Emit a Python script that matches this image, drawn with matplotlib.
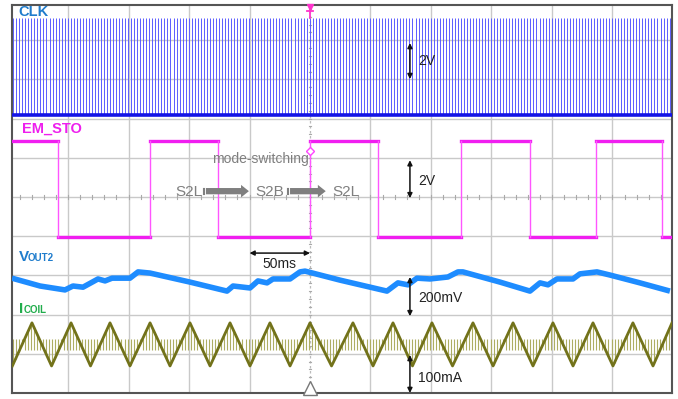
import numpy as np
import matplotlib
matplotlib.use("Agg")
import matplotlib.pyplot as plt
from matplotlib.patches import FancyArrow

plt.rcParams['font.family'] = ['Liberation Sans', 'DejaVu Sans']

# time axis in ms (50 ms/div), vertical axis in screen divisions
clk_low, clk_high = 7.09, 9.57
clk_period = 2.5

em_levels = (3.98, 6.43)          # low, high
em_edges = [-208, -132, -76, 0, 56, 125, 182, 236, 291]   # first edge is a fall

vout_t = [-246.3, -223.1, -202.5, -195.9, -187.6, -175.2, -169.4, -163.6, -148.8,
          -142.1, -132.2, -99.2, -68.6, -63.6, -49.6, -43.0, -35.5, -30.6, -16.5,
          -8.3, -4.1, 24.8, 63.6, 72.7, 81.0, 88.4, 99.2, 114.0, 122.3, 126.4,
          157.0, 181.8, 190.1, 196.7, 204.1, 217.4, 223.1, 237.2, 247.9, 272.7, 297.5]
vout_v = [2.93, 2.73, 2.63, 2.73, 2.70, 2.91, 2.86, 2.93, 2.93,
          3.09, 3.06, 2.83, 2.60, 2.73, 2.68, 2.86, 2.81, 2.91, 2.91,
          3.09, 3.11, 2.88, 2.60, 2.81, 2.76, 2.93, 2.91, 2.96, 3.09, 3.09,
          2.83, 2.60, 2.81, 2.76, 2.91, 2.91, 3.04, 3.09, 3.01, 2.81, 2.60]

coil_peaks = [-229.8, -197.5, -165.3, -132.2, -99.2, -66.1, -33.1, 0.0, 35.5,
              68.6, 100.8, 134.7, 167.8, 200.8, 233.9, 266.9, 299.2]
coil_troughs = [-246.0, -213.6, -181.4, -148.8, -115.7, -82.6, -49.6, -16.5, 17.8,
                52.1, 84.7, 117.8, 151.3, 184.3, 217.4, 250.4, 283.5]
coil_hi, coil_lo = 1.79, 0.69

x0, x1 = -246.3, 299.2
y0, y1 = 0.0, 9.9

fig = plt.figure(figsize=(6.78, 3.99), dpi=100)
ax = fig.add_axes([12/678, 6/399, 660/678, 388/399])
ax.set_xlim(x0, x1)
ax.set_ylim(y0, y1)
ax.set_xticks([])
ax.set_yticks([])
for s in ax.spines.values():
    s.set_color('#555555')
    s.set_linewidth(1.5)

# graticule
gcol = '#c9c9c9'
for gx in range(-200, 300, 50):
    if gx == 0:
        ax.axvline(gx, color='#bbbbbb', lw=0.9, ls=(0, (2, 2)), zorder=0)
    else:
        ax.axvline(gx, color=gcol, lw=1.0, zorder=0)
for gy in range(1, 10):
    ax.axhline(gy, color=gcol, lw=1.0, zorder=0)
# minor ticks on the centre lines
for tx in np.arange(-240, 300, 10):
    ax.plot([tx, tx], [4.95, 5.05], color='#aaaaaa', lw=0.8, zorder=0)
for ty in np.arange(0.2, 9.9, 0.2):
    ax.plot([-1.2, 1.2], [ty, ty], color='#aaaaaa', lw=0.8, zorder=0)

# CLK pulse train
clk_t = np.arange(x0 + 1.0, x1, clk_period)
ax.vlines(clk_t, clk_low, clk_high, color='#5c5cff', lw=0.7, zorder=2)
ax.axhline(clk_low, color='#1414e6', lw=2.6, zorder=3)

# EM_STO square wave
lo, hi = em_levels
bounds = [x0] + em_edges + [x1]
lvl = hi
for a, b in zip(bounds[:-1], bounds[1:]):
    ax.plot([a, b], [lvl, lvl], color='#f01ef0', lw=2.4, zorder=3)
    lvl = lo if lvl == hi else hi
for e in em_edges:
    ax.plot([e, e], [lo, hi], color='#ff55ff', lw=1.0, zorder=3)

# VOUT2
ax.plot(vout_t, vout_v, color='#1e8cff', lw=4.0, solid_joinstyle='round',
        solid_capstyle='butt', zorder=3)

# ICOIL: triangle with switching spikes
tri_t = np.array(sorted(coil_peaks + coil_troughs))
tri_v = np.array([coil_hi if t in coil_peaks else coil_lo for t in tri_t])
mid = (coil_hi + coil_lo) / 2
sw_t = np.arange(x0 + 0.5, x1, clk_period)
sw_v = np.interp(sw_t, tri_t, tri_v)
sw_end = np.where(sw_v > mid, mid - 0.15, mid + 0.15)
ax.vlines(sw_t, sw_v, sw_end, color='#adad62', lw=0.8, zorder=2)
ax.plot(tri_t, tri_v, color='#72721a', lw=2.0, zorder=3)

# channel labels
blue_lbl = '#1f7ccc'
ax.text(-241.0, 9.72, 'CLK', color=blue_lbl, fontsize=10.5, fontweight='bold',
        va='center', ha='left')
ax.text(-238.0, 6.75, 'EM_STO', color='#ee1fee', fontsize=10.5, fontweight='bold',
        va='center', ha='left')
ax.text(-240.5, 3.37, 'V', color=blue_lbl, fontsize=11, fontweight='bold',
        va='baseline', ha='left')
ax.text(-233.0, 3.37, 'OUT2', color=blue_lbl, fontsize=7, fontweight='bold',
        va='baseline', ha='left')
ax.text(-240.5, 2.04, 'I', color='#21ad4c', fontsize=11, fontweight='bold',
        va='baseline', ha='left')
ax.text(-237.0, 2.04, 'COIL', color='#21ad4c', fontsize=7, fontweight='bold',
        va='baseline', ha='left')

# mode-switching annotation
gray = '#7f7f7f'
ax.text(-81.0, 5.87, 'mode-switching', color=gray, fontsize=10, va='baseline', ha='left')
ax.text(-111.6, 5.03, 'S2L', color=gray, fontsize=11, va='baseline', ha='left')
ax.text(-45.5, 5.03, 'S2B', color=gray, fontsize=11, va='baseline', ha='left')
ax.text(18.2, 5.03, 'S2L', color=gray, fontsize=11, va='baseline', ha='left')
for a, b in [(-88.5, -50.5), (-19.0, 13.0)]:
    ax.add_patch(FancyArrow(a + 2.5, 5.15, b - a - 2.5, 0, width=0.16,
                            head_width=0.32, head_length=6.5,
                            length_includes_head=True, color=gray, lw=0, zorder=4))
    ax.plot([a, a], [5.07, 5.23], color=gray, lw=0.8, zorder=4)
    ax.plot([a + 1.2, a + 1.2], [5.07, 5.23], color=gray, lw=0.8, zorder=4)

# vertical scale arrows
ax_x = 82.6
for (ya, yb, lbl, ly) in [(8.01, 8.93, '2V', 8.47), (4.97, 5.94, '2V', 5.41),
                          (1.96, 2.96, '200mV', 2.42), (0.0, 0.97, '100mA', 0.38)]:
    ax.annotate('', xy=(ax_x, ya), xytext=(ax_x, yb),
                arrowprops=dict(arrowstyle='<|-|>', color='#111111', lw=1.1,
                                mutation_scale=7, shrinkA=0, shrinkB=0), zorder=5)
    ax.text(ax_x + 6.5, ly, lbl, color='#222222', fontsize=10, va='center', ha='left')

# time scale arrow
ax.annotate('', xy=(-50, 3.57), xytext=(0, 3.57),
            arrowprops=dict(arrowstyle='<|-|>', color='#111111', lw=1.1,
                            mutation_scale=7, shrinkA=0, shrinkB=0), zorder=5)
ax.text(-25, 3.29, '50ms', color='#222222', fontsize=10, va='center', ha='center')

# trigger markers
ax.plot([0], [9.84], marker='v', color='#ff33cc', ms=4, zorder=6, clip_on=False)
ax.plot([-2.5, 2.5], [9.74, 9.74], color='#ff33cc', lw=1.3, zorder=6)
ax.plot([0, 0], [9.57, 9.74], color='#ff33cc', lw=1.3, zorder=6)
ax.plot([0], [6.17], marker='D', ms=4.5, mfc='white', mec='#ff44ff', mew=1.0, zorder=6)
ax.plot([0], [0.14], marker='^', ms=10, mfc='white', mec='#777777', mew=1.0,
        zorder=6, clip_on=False)

fig.savefig('out.png', dpi=100)
